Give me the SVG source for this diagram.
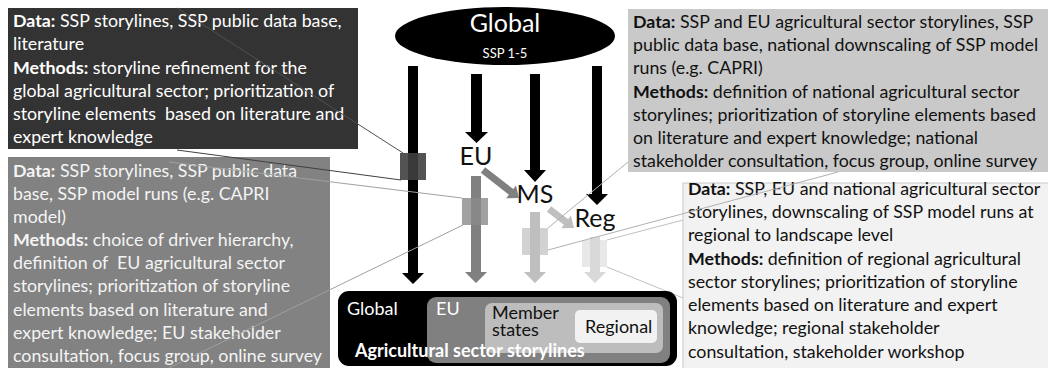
<svg xmlns="http://www.w3.org/2000/svg" width="1048" height="368" viewBox="0 0 1048 368">
<style>
.t{font-family:Lato,"Open Sans","Liberation Sans",sans-serif;font-size:17.8px;white-space:pre}
.b{font-weight:bold}
.w{fill:#ffffff}
.k{fill:#111111}
.s{font-size:18px}
.c{fill:none;stroke-width:1}
</style>
<rect width="1048" height="368" fill="#ffffff"/>
<g id="box-global-info">
<rect x="8" y="8" width="350" height="141" fill="#333333"/>
<text class="t w" x="13" y="27"><tspan class="b">Data:</tspan> SSP storylines, SSP public data base,</text>
<text class="t w" x="13" y="50">literature</text>
<text class="t w" x="13" y="74"><tspan class="b">Methods:</tspan> storyline refinement for the</text>
<text class="t w" x="13" y="97">global agricultural sector; prioritization of</text>
<text class="t w" x="13" y="120">storyline elements  based on literature and</text>
<text class="t w" x="13" y="143">expert knowledge</text>
</g>
<g id="box-eu-info">
<rect x="8" y="157" width="322" height="215" fill="#828282"/>
<text class="t" fill="#f4f4f4" x="13" y="177"><tspan class="b">Data:</tspan> SSP storylines, SSP public data</text>
<text class="t" fill="#f4f4f4" x="13" y="200">base, SSP model runs (e.g. CAPRI</text>
<text class="t" fill="#f4f4f4" x="13" y="223">model)</text>
<text class="t" fill="#f4f4f4" x="13" y="246"><tspan class="b">Methods:</tspan> choice of driver hierarchy,</text>
<text class="t" fill="#f4f4f4" x="13" y="269">definition of  EU agricultural sector</text>
<text class="t" fill="#f4f4f4" x="13" y="292">storylines; prioritization of storyline</text>
<text class="t" fill="#f4f4f4" x="13" y="316">elements based on literature and</text>
<text class="t" fill="#f4f4f4" x="13" y="339">expert knowledge; EU stakeholder</text>
<text class="t" fill="#f4f4f4" x="13" y="362">consultation, focus group, online survey</text>
</g>
<g id="box-national-info">
<rect x="628" y="9" width="425" height="163" fill="#c9c9c9"/>
<text class="t k" x="633" y="28"><tspan class="b">Data:</tspan> SSP and EU agricultural sector storylines, SSP</text>
<text class="t k" x="633" y="51">public data base, national downscaling of SSP model</text>
<text class="t k" x="633" y="74">runs (e.g. CAPRI)</text>
<text class="t k" x="633" y="98"><tspan class="b">Methods:</tspan> definition of national agricultural sector</text>
<text class="t k" x="633" y="121">storylines; prioritization of storyline elements based</text>
<text class="t k" x="633" y="144">on literature and expert knowledge; national</text>
<text class="t k" x="633" y="167">stakeholder consultation, focus group, online survey</text>
</g>
<g id="box-regional-info">
<rect x="683" y="183" width="370" height="190" fill="#f2f2f2" stroke="#c8c8c8" stroke-width="1"/>
<text class="t k" x="688" y="195"><tspan class="b">Data:</tspan> SSP, EU and national agricultural sector</text>
<text class="t k" x="688" y="218">storylines, downscaling of SSP model runs at</text>
<text class="t k" x="688" y="241">regional to landscape level</text>
<text class="t k" x="688" y="265"><tspan class="b">Methods:</tspan> definition of regional agricultural</text>
<text class="t k" x="688" y="288">sector storylines; prioritization of storyline</text>
<text class="t k" x="688" y="311">elements based on literature and expert</text>
<text class="t k" x="688" y="334">knowledge; regional stakeholder</text>
<text class="t k" x="688" y="358">consultation, stakeholder workshop</text>
</g>
<g id="node-global">
<ellipse cx="505" cy="36" rx="110" ry="29" fill="#000000"/>
<text class="t w" x="505" y="32" text-anchor="middle" style="font-size:25px">Global</text>
<text class="t w" x="505" y="58" text-anchor="middle" style="font-size:13px">SSP 1-5</text>
</g>
<g id="node-eu"><text class="t k" x="476" y="165" text-anchor="middle" style="font-size:25px">EU</text></g>
<g id="node-ms"><text class="t k" x="535" y="203" text-anchor="middle" style="font-size:25px">MS</text></g>
<g id="node-reg"><text class="t k" x="595" y="227" text-anchor="middle" style="font-size:25px">Reg</text></g>
<g id="connectors">
<path d="M408,66 H418 V273 H424 L413,284 L402,273 H408 Z" fill="#000000"/>
<path d="M471,74 H482 V132 H488 L476.5,143 L465,132 H471 Z" fill="#000000"/>
<path d="M530,74 H540 V170 H546 L535,182 L524,170 H530 Z" fill="#000000"/>
<path d="M592,66 H602 V194 H608 L597,205 L586,194 H592 Z" fill="#000000"/>
<path d="M471,176 H481 V272 H487 L476,283 L465,272 H471 Z" fill="#808080"/>
<path d="M530,212 H540 V272 H546 L535,283 L524,272 H530 Z" fill="#bfbfbf"/>
<path d="M590,237 H600 V272 H606 L595,283 L584,272 H590 Z" fill="#d9d9d9"/>
<polygon transform="translate(483,170) rotate(37.9)" points="0,-3.5 35.6,-3.5 35.6,-8 45.6,0 35.6,8 35.6,3.5 0,3.5" fill="#808080"/>
<polygon transform="translate(549,209) rotate(37.2)" points="0,-3.5 21.4,-3.5 21.4,-8 31.4,0 21.4,8 21.4,3.5 0,3.5" fill="#bfbfbf"/>
<rect x="400" y="153" width="26" height="27" fill="#404040" opacity="0.9"/>
<rect x="462" y="198" width="26" height="27" fill="#8a8a8a" opacity="0.8"/>
<rect x="522" y="228" width="26" height="27" fill="#bfbfbf" opacity="0.7"/>
<rect x="582" y="240" width="25" height="27" fill="#d9d9d9" opacity="0.6"/>
<line class="c" stroke="#505050" x1="177" y1="8" x2="403" y2="153"/>
<line class="c" stroke="#404040" x1="177" y1="150" x2="401" y2="180"/>
<line class="c" stroke="#a0a0a0" x1="169" y1="162" x2="462" y2="198"/>
<line class="c" stroke="#a0a0a0" x1="169" y1="368" x2="463" y2="225"/>
<line class="c" stroke="#b0b0b0" x1="628" y1="162" x2="548" y2="228"/>
<line class="c" stroke="#b0b0b0" x1="838" y1="172" x2="548" y2="250"/>
<line class="c" stroke="#c0c0c0" x1="683" y1="220" x2="607" y2="240"/>
<line class="c" stroke="#c0c0c0" x1="607" y1="267" x2="683" y2="298"/>
</g>
<g id="node-storylines">
<rect x="338" y="291" width="339" height="75" rx="11" fill="#000000"/>
<rect x="427" y="297" width="243" height="66" rx="9" fill="#808080"/>
<rect x="485" y="303" width="178" height="50" rx="7" fill="#bdbdbd"/>
<rect x="575" y="310" width="82" height="33" rx="5" fill="#f2f2f2"/>
<text class="t w s" x="347" y="315">Global</text>
<text class="t w s" x="436" y="315">EU</text>
<text class="t k s"><tspan x="492" y="319">Member</tspan><tspan x="492" y="336">states</tspan></text>
<text class="t k s" x="585" y="333">Regional</text>
<text class="t w b s" x="355" y="357">Agricultural sector storylines</text>
</g>
</svg>
